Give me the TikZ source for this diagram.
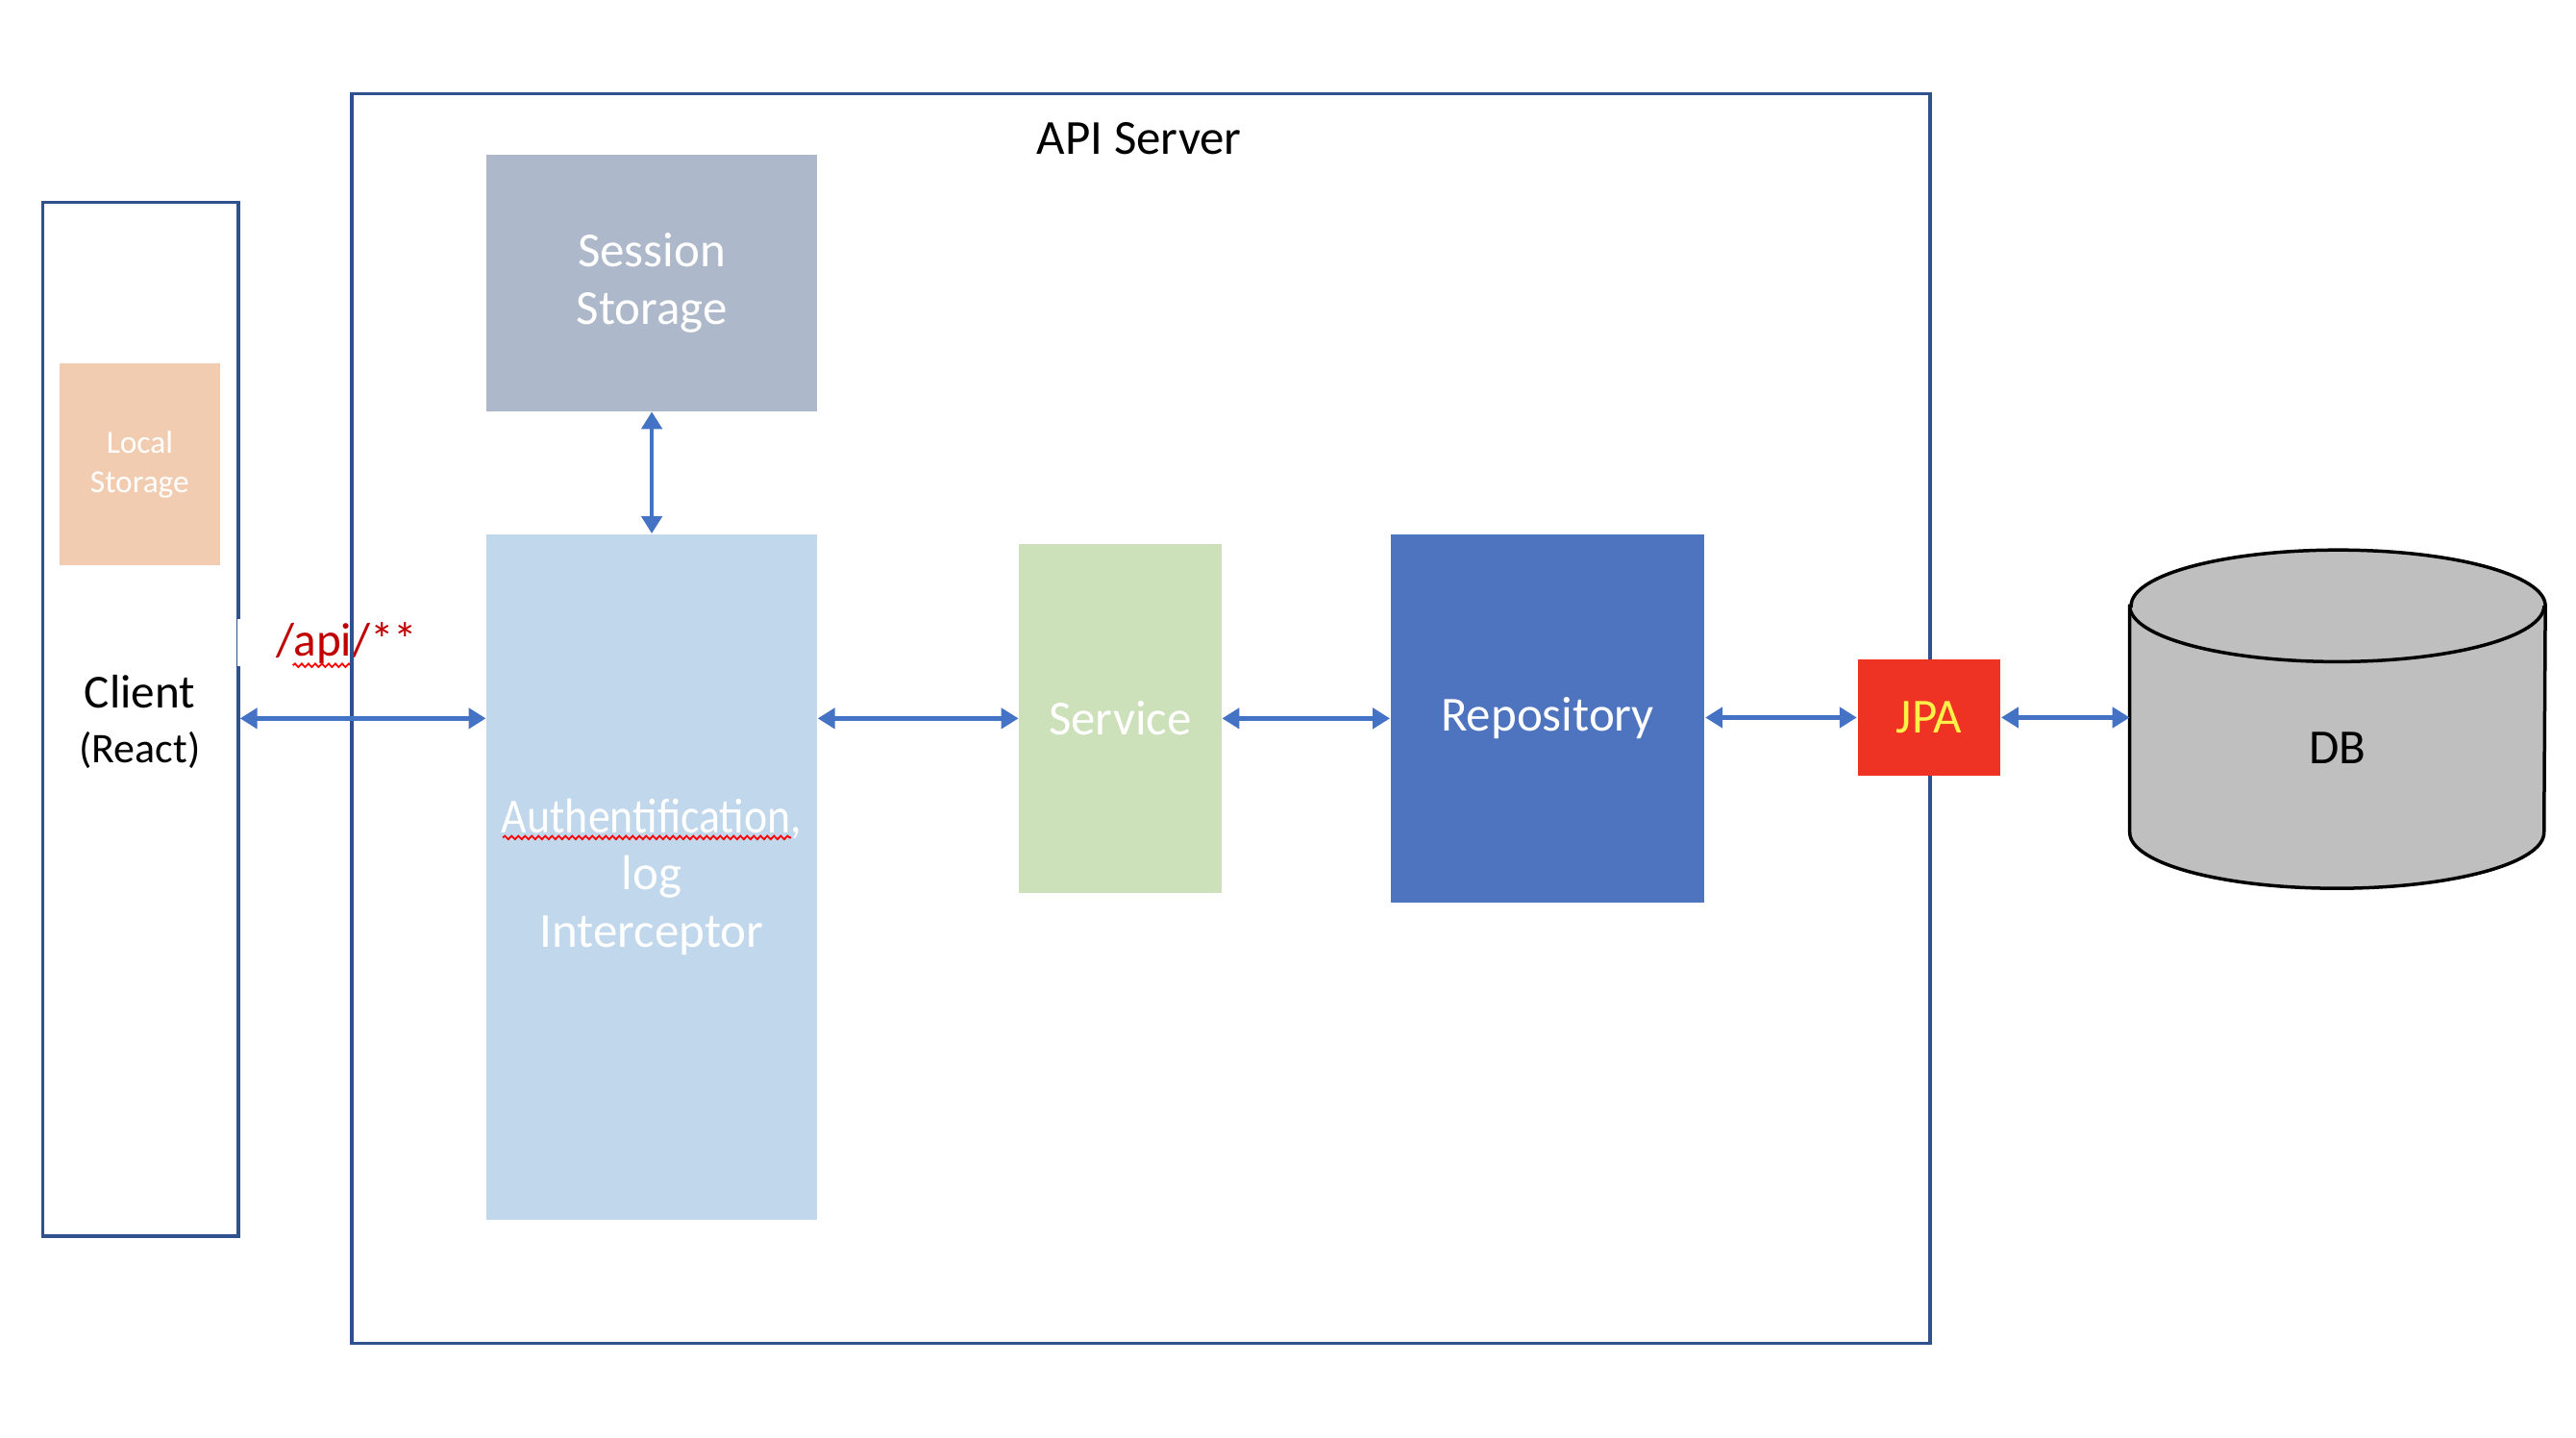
\documentclass[tikz,border=0pt]{standalone}
\usepackage{fontspec}
\setmainfont{Carlito}
\usetikzlibrary{arrows.meta,decorations.pathmorphing}

\definecolor{frameblue}{HTML}{2F528F}
\definecolor{linkblue}{HTML}{4472C4}
\definecolor{localpeach}{HTML}{F2CCB0}
\definecolor{sessiongrey}{HTML}{ADB9CA}
\definecolor{authblue}{HTML}{C1D7EB}
\definecolor{servicegreen}{HTML}{CCE0BA}
\definecolor{repoblue}{HTML}{4E74BF}
\definecolor{jpared}{HTML}{EE3224}
\definecolor{jpayellow}{HTML}{FFF04A}
\definecolor{dbgrey}{HTML}{BFBFBF}
\definecolor{apired}{HTML}{C00000}

\tikzset{
  outerbox/.style={draw=frameblue, line width=0.035cm, inner sep=0pt},
  block/.style={inner sep=0pt, text=white, align=center, font=\fontsize{14.5}{17}\selectfont},
  link/.style={draw=linkblue, line width=0.045cm,
    {Triangle[length=0.18cm,width=0.21cm]}-{Triangle[length=0.18cm,width=0.21cm]}},
  spellmark/.style={draw=red, line width=0.018cm, decorate,
    decoration={snake, amplitude=0.018cm, segment length=0.07cm}}
}

\begin{document}
\begin{tikzpicture}
        \useasboundingbox (0,0) rectangle (26.8,14.96);

        % client side
        \node [outerbox, minimum width=2.035cm, minimum height=10.757cm] (client) at (1.462, 7.478) {};
        \node [block, fill=localpeach, minimum width=1.676cm, minimum height=2.104cm, font=\fontsize{9.5}{11.7}\selectfont] (local) at (1.454, 10.129) {Local\\Storage};
        \node [align=center, font=\fontsize{14}{16}\selectfont] (clientname) at (1.454, 7.45) {Client\\{\fontsize{12.5}{16}\selectfont(React)}};
        \node [fill=white, text=apired, anchor=west, inner xsep=0.4cm, inner ysep=0.03cm, font=\fontsize{14}{16}\selectfont] (apipath) at ([xshift=-0.03cm]client.east |- 0,8.273) {/api/**};
        \draw [spellmark] ([xshift=0.58cm, yshift=-0.1cm]apipath.base west) -- ++(0.61,0);

        % server
        \node [outerbox, minimum width=16.418cm, minimum height=12.998cm] (server) at (11.869, 7.486) {};
        \node [font=\fontsize{14.5}{17}\selectfont] (servertitle) at (11.852, 13.523) {API Server};

        \node [block, fill=sessiongrey, minimum width=3.438cm, minimum height=2.668cm] (session) at (6.781, 12.018) {Session\\Storage};
        \node [block, fill=authblue, minimum width=3.438cm, minimum height=7.132cm] (auth) at (6.781, 5.836) {\scalebox{0.9}[1]{Authentification,}\\log\\Interceptor};
        \draw [spellmark] ([xshift=-1.55cm, yshift=0.41cm]auth.center) -- ++(3.0,0);
        \node [block, fill=servicegreen, minimum width=2.104cm, minimum height=3.626cm] (service) at (11.655, 7.486) {Service};
        \node [block, fill=repoblue, minimum width=3.266cm, minimum height=3.831cm] (repo) at (16.101, 7.486) {Repository};
        \node [block, fill=jpared, text=jpayellow, minimum width=1.488cm, minimum height=1.214cm] (jpa) at (20.069, 7.495) {JPA};

        % database
        \node [inner sep=0pt, minimum width=4.31cm, minimum height=3.506cm] (db) at (24.319, 7.478) {};
        \filldraw [fill=dbgrey, draw=black, line width=0.035cm] ([yshift=-0.581cm]db.north west) -- ([yshift=0.581cm]db.south west)
          arc [start angle=180, end angle=360, x radius=2.155cm, y radius=0.581cm] -- ([yshift=-0.581cm]db.north east)
          arc [start angle=0, end angle=180, x radius=2.155cm, y radius=0.581cm] -- cycle;
        \draw [black, line width=0.035cm] ([yshift=-0.581cm]db.north west) arc [start angle=180, end angle=360, x radius=2.155cm, y radius=0.581cm];
        \node [font=\fontsize{14.5}{17}\selectfont] (dbname) at ([yshift=-0.3cm]db.center) {DB};

        % links
        \draw [link] (client.east |- service.center) -- (auth.west |- service.center);
        \draw [link] (session.south) -- (auth.north);
        \draw [link] (auth.east |- service.center) -- (service.west);
        \draw [link] (service.east) -- (repo.west);
        \draw [link] (repo.east |- jpa.center) -- (jpa.west);
        \draw [link] (jpa.east) -- (db.west |- jpa.east);
\end{tikzpicture}
\end{document}
